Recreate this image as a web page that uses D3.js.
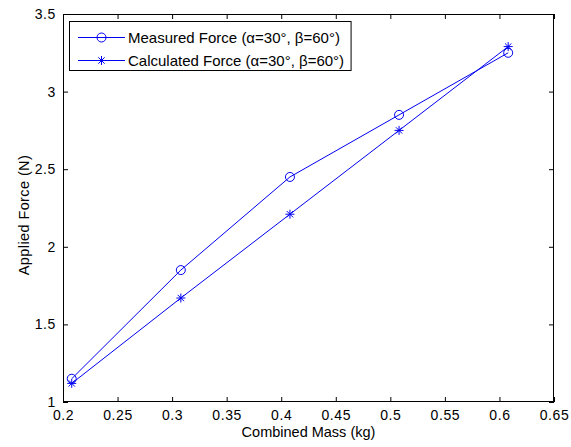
<!DOCTYPE html>
<html>
<head>
<meta charset="utf-8">
<script src="https://cdn.jsdelivr.net/npm/d3@7"></script>
<style>
  body { margin: 0; background: #fff; }
  text { font-family: "Liberation Sans", Arial, sans-serif; }
</style>
</head>
<body>
<script>
// Combined mass (kg) and forces (N)
const mass = [0.208, 0.308, 0.408, 0.508, 0.608];
const measured = [1.15, 1.85, 2.45, 2.85, 3.25];
const calculated = [1.12, 1.67, 2.21, 2.75, 3.29];
const xTicks = [0.2, 0.25, 0.3, 0.35, 0.4, 0.45, 0.5, 0.55, 0.6, 0.65];
const yTicks = [1, 1.5, 2, 2.5, 3, 3.5];
const seriesNames = ["Measured Force (\u03b1=30\u00b0, \u03b2=60\u00b0)", "Calculated Force (\u03b1=30\u00b0, \u03b2=60\u00b0)"];

const width = 571, height = 447;
const margin = {top: 14, right: 17, bottom: 45, left: 63};
const blue = "#0000f0";

var svg = d3.select("body").append("svg")
    .attr("width", width)
    .attr("height", height);

var xscale = d3.scaleLinear()
    .domain([0.2, 0.65])
    .range([margin.left, width - margin.right]);

var yscale = d3.scaleLinear()
    .domain([1, 3.5])
    .range([height - margin.bottom, margin.top]);

// plot box
svg.append("rect")
    .attr("x", margin.left + 0.5)
    .attr("y", margin.top + 0.5)
    .attr("width", xscale(0.65) - xscale(0.2) - 1)
    .attr("height", yscale(1) - yscale(3.5) - 1)
    .attr("fill", "#fff")
    .attr("stroke", "#000");

const fmt = d => String(d);

// axes, ticks pointing inward, mirrored on top/right
svg.append("g")
    .attr("transform", `translate(0,${yscale(1)})`)
    .call(d3.axisBottom(xscale).tickValues(xTicks).tickFormat(fmt).tickSize(-5).tickPadding(8))
    .call(g => g.select(".domain").remove());
svg.append("g")
    .attr("transform", `translate(0,${yscale(3.5)})`)
    .call(d3.axisTop(xscale).tickValues(xTicks).tickFormat("").tickSize(-5))
    .call(g => g.select(".domain").remove());
svg.append("g")
    .attr("transform", `translate(${xscale(0.2)},0)`)
    .call(d3.axisLeft(yscale).tickValues(yTicks).tickFormat(fmt).tickSize(-5).tickPadding(7))
    .call(g => g.select(".domain").remove());
svg.append("g")
    .attr("transform", `translate(${xscale(0.65)},0)`)
    .call(d3.axisRight(yscale).tickValues(yTicks).tickFormat("").tickSize(-5))
    .call(g => g.select(".domain").remove());

svg.selectAll(".tick text")
    .attr("font-size", 14)
    .attr("letter-spacing", 0.6)
    .attr("font-family", "Liberation Sans, Arial, sans-serif")
    .attr("fill", "#000");
svg.selectAll(".tick line").attr("stroke", "#000");

// axis labels
svg.append("text")
    .attr("x", (xscale(0.2) + xscale(0.65)) / 2)
    .attr("y", 437)
    .attr("text-anchor", "middle")
    .attr("font-size", 14.5)
    .text("Combined Mass (kg)");

svg.append("text")
    .attr("transform", `translate(29,215) rotate(-90)`)
    .attr("text-anchor", "middle")
    .attr("font-size", 14.5)
    .attr("letter-spacing", 0.4)
    .text("Applied Force (N)");

// lines
var line = d3.line()
    .x((d, i) => xscale(mass[i]))
    .y(d => yscale(d));

[measured, calculated].forEach(s => {
    svg.append("path")
        .attr("d", line(s))
        .attr("fill", "none")
        .attr("stroke", blue)
        .attr("stroke-width", 1);
});

function circleMarker(g, x, y) {
    g.append("circle")
        .attr("cx", x).attr("cy", y).attr("r", 4.5)
        .attr("fill", "none").attr("stroke", blue);
}
function starMarker(g, x, y) {
    const r = 4.5, d = r * 0.7;
    g.append("path")
        .attr("d", `M${x - r},${y}H${x + r}M${x},${y - r}V${y + r}M${x - d},${y - d}L${x + d},${y + d}M${x - d},${y + d}L${x + d},${y - d}`)
        .attr("stroke", blue)
        .attr("fill", "none");
}

measured.forEach((v, i) => circleMarker(svg, xscale(mass[i]), yscale(v)));
calculated.forEach((v, i) => starMarker(svg, xscale(mass[i]), yscale(v)));

// legend
var legend = svg.append("g");
var box = legend.append("rect")
    .attr("x", 69.5).attr("y", 21.5)
    .attr("height", 49)
    .attr("fill", "#fff").attr("stroke", "#000");

const markers = [circleMarker, starMarker];
let maxW = 0;
seriesNames.forEach((name, i) => {
    const y = 37.5 + i * 23;
    legend.append("line")
        .attr("x1", 78).attr("x2", 125)
        .attr("y1", y).attr("y2", y)
        .attr("stroke", blue);
    markers[i](legend, 101.5, y);
    const t = legend.append("text")
        .attr("x", 128).attr("y", y + 5)
        .attr("font-size", 15)
        .text(name);
    maxW = Math.max(maxW, t.node().getComputedTextLength());
});
box.attr("width", 128 + maxW + 7 - 69.5);
</script>
</body>
</html>
